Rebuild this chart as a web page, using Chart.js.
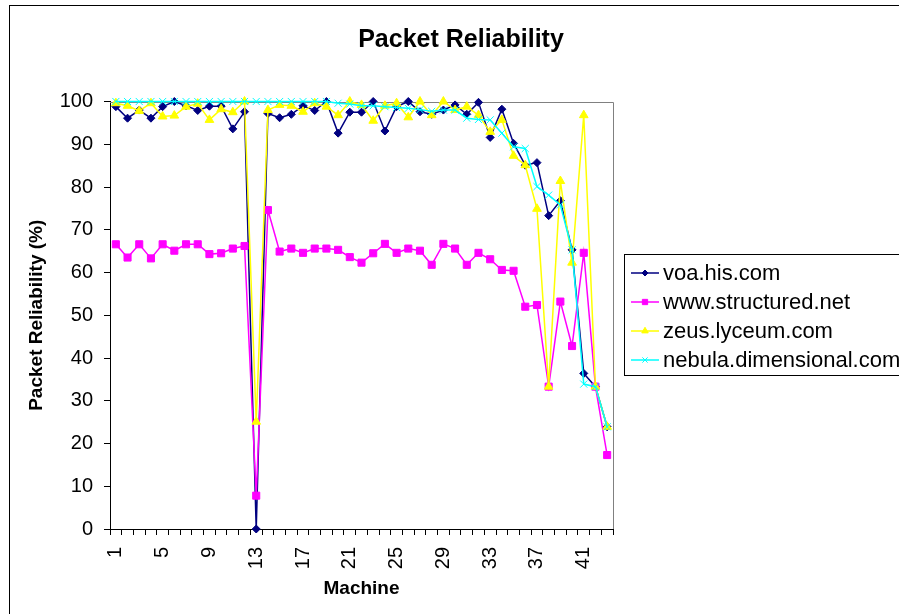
<!DOCTYPE html>
<html><head><meta charset="utf-8">
<script src="https://cdn.jsdelivr.net/npm/chart.js@4/dist/chart.umd.min.js"></script>
<style>html,body{margin:0;padding:0;background:#fff;overflow:hidden}</style>
</head><body>
<canvas id="c" width="899" height="614"></canvas>
<script>
const machines = ["1","2","3","4","5","6","7","8","9","10","11","12","13","14","15","16","17","18","19","20","21","22","23","24","25","26","27","28","29","30","31","32","33","34","35","36","37","38","39","40","41","42","43"];
const voa = [98.8,96.1,98.0,96.1,98.8,100,99.0,97.9,98.9,98.9,93.6,97.6,0,97.2,96.2,97.0,99.0,97.9,100,92.6,97.5,97.5,100,93.1,98.8,100,97.6,97.0,98.0,99.2,97.0,99.8,91.6,98.2,90.2,85.1,85.7,73.3,76.8,65.3,36.4,33.3,23.9];
const structured = [66.6,63.5,66.6,63.3,66.6,65.1,66.6,66.6,64.3,64.5,65.6,66.2,7.8,74.6,64.9,65.6,64.6,65.6,65.6,65.3,63.6,62.3,64.5,66.7,64.6,65.6,65.1,61.8,66.7,65.6,61.8,64.6,63.1,60.6,60.4,52.0,52.4,33.3,53.2,42.8,64.6,33.3,17.3];
const zeus = [99.6,99.0,97.8,99.6,96.5,96.7,98.8,99.5,95.7,98.2,97.5,100,25.1,98.0,99.2,99.0,97.6,99.6,98.8,96.8,100,99.2,95.5,99.0,99.6,96.3,100,96.8,100,98.0,98.8,96.8,92.9,95.7,87.3,85.1,74.9,33.3,81.4,62.3,96.8,33.3,23.9];
const nebula = [100,100,100,100,100,100,100,100,100,100,100,100,100,100,100,100,100,100,100,99.6,99.4,99.0,99.0,98.8,98.6,98.4,98.1,97.7,98.0,98.0,96.1,95.8,95.7,92.6,89.4,89.0,80.1,78.1,75.8,65.3,33.9,33.3,23.9];
const seriesNames = ["voa.his.com","www.structured.net","zeus.lyceum.com","nebula.dimensional.com"];
const yTicks = [0,10,20,30,40,50,60,70,80,90,100];

const FONT = "Arial, 'Liberation Sans', sans-serif";

const frame = {
  id: 'frame',
  beforeDraw(chart) {
    const ctx = chart.ctx;
    ctx.save();
    ctx.fillStyle = '#fff';
    ctx.fillRect(0, 0, chart.width, chart.height);
    ctx.strokeStyle = '#000';
    ctx.lineWidth = 1;
    ctx.strokeRect(9.5, 5.5, 2000, 2000);
    ctx.restore();
  },
  beforeDatasetsDraw(chart) {
    const a = chart.chartArea, ctx = chart.ctx;
    ctx.save();
    ctx.strokeStyle = '#808080';
    ctx.lineWidth = 1;
    ctx.beginPath();
    ctx.moveTo(a.left, Math.round(a.top) + 0.5);
    ctx.lineTo(Math.round(a.right) + 0.5, Math.round(a.top) + 0.5);
    ctx.lineTo(Math.round(a.right) + 0.5, a.bottom);
    ctx.stroke();
    ctx.restore();
  }
};

const legendBox = {
  id: 'legendBox',
  afterDraw(chart) {
    const ctx = chart.ctx;
    ctx.save();
    ctx.strokeStyle = '#000';
    ctx.lineWidth = 1;
    ctx.strokeRect(624.5, 254.5, 400, 121);
    chart.data.datasets.forEach((ds, i) => {
      const y = 273 + i * 29;
      ctx.strokeStyle = ds.borderColor;
      ctx.lineWidth = 1.5;
      ctx.beginPath(); ctx.moveTo(631, y); ctx.lineTo(659, y); ctx.stroke();
      ctx.fillStyle = ds.pointBackgroundColor;
      ctx.strokeStyle = ds.pointBorderColor;
      ctx.lineWidth = 1;
      Chart.helpers.drawPoint(ctx, {pointStyle: ds.pointStyle, radius: ds.pointRadius * 0.75, rotation: 0, borderWidth: 1}, 645, y);
      ctx.fillStyle = '#000';
      ctx.font = '22px ' + FONT;
      ctx.textBaseline = 'middle';
      ctx.textAlign = 'left';
      ctx.fillText(ds.label, 663, y + 1);
    });
    ctx.restore();
  }
};

function mkDs(label, data, color, style, r, order) {
  return {
    label, data, order,
    borderColor: color, backgroundColor: color,
    pointBackgroundColor: color, pointBorderColor: color,
    pointStyle: style, pointRadius: r, pointBorderWidth: 1,
    borderWidth: 1.5, tension: 0, clip: false
  };
}

new Chart(document.getElementById('c'), {
  type: 'line',
  data: {
    labels: machines,
    datasets: [
      mkDs(seriesNames[0], voa, '#000080', 'rectRot', 4, 4),
      mkDs(seriesNames[1], structured, '#FF00FF', 'rect', 5, 3),
      mkDs(seriesNames[2], zeus, '#FFFF00', 'triangle', 5, 2),
      mkDs(seriesNames[3], nebula, '#00FFFF', 'crossRot', 5, 1)
    ]
  },
  options: {
    responsive: false,
    animation: false,
    devicePixelRatio: 1,
    layout: {padding: {left: 23, right: 0, top: 0, bottom: 0}},
    plugins: {
      legend: {display: false},
      tooltip: {enabled: false},
      title: {
        display: true, text: 'Packet Reliability', color: '#000',
        font: {family: FONT, size: 25, weight: 'bold'},
        padding: {top: 25, bottom: 46.5}
      }
    },
    scales: {
      x: {
        type: 'category', offset: true,
        grid: {offset: true, drawOnChartArea: false, drawTicks: true, tickLength: 6, color: '#000', lineWidth: 1},
        border: {display: true, color: '#000', width: 1},
        ticks: {
          autoSkip: false, maxRotation: 90, minRotation: 90, padding: 12, color: '#000',
          font: {family: FONT, size: 20},
          callback: (v, i) => (i % 4 === 0 ? machines[i] : '')
        },
        title: {display: true, text: 'Machine', color: '#000', font: {family: FONT, size: 19, weight: 'bold'}, padding: {top: 0, bottom: 13.6}},
        afterFit: s => { s.height = 85; }
      },
      y: {
        min: 0, max: 100,
        afterBuildTicks: s => { s.ticks = yTicks.map(v => ({value: v})); },
        grid: {drawOnChartArea: false, drawTicks: true, tickLength: 6, color: '#000', lineWidth: 1},
        border: {display: true, color: '#000', width: 1},
        ticks: {padding: 11, color: '#000', font: {family: FONT, size: 20}},
        title: {display: true, text: 'Packet Reliability (%)', color: '#000', font: {family: FONT, size: 19, weight: 'bold'}, padding: {top: 2.6, bottom: 0}},
        afterFit: s => { s.width = 87; }
      },
      spacer: {
        position: 'right', display: true,
        grid: {display: false}, border: {display: false}, ticks: {display: false},
        afterFit: s => { s.width = 286; }
      }
    }
  },
  plugins: [frame, legendBox]
});
</script>
</body></html>
